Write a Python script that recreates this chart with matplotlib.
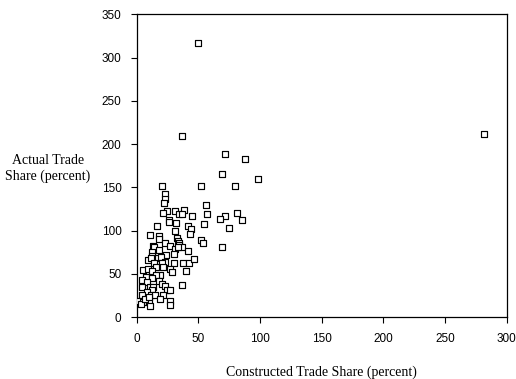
import matplotlib
matplotlib.use("Agg")
import matplotlib.pyplot as plt

# constructed trade share (x) and actual trade share (y), percent
constructed = [49.5, 36.5, 281.6, 71.9, 87.6, 68.9, 98.6, 20.8, 52.4, 80.0,
               23.2, 23.0, 22.2, 56.0, 31.0, 38.4, 24.9, 21.4, 34.3, 36.5,
               45.0, 57.0, 81.6, 71.4, 67.8, 85.0, 26.5, 26.0, 31.6, 54.6,
               41.9, 16.8, 43.8, 75.1, 30.8, 43.0, 10.5, 18.1, 18.4, 32.7,
               33.2, 51.9, 54.0, 34.0, 23.0, 34.3, 26.8, 36.5, 13.5, 14.0,
               31.0, 33.2, 69.5, 41.9, 17.9, 12.4, 30.3, 23.8, 12.2, 8.9,
               17.3, 20.0, 11.4, 22.7, 20.8, 13.8, 37.3, 42.2, 30.0, 46.8,
               21.4, 15.4, 27.0, 28.9, 40.3, 5.1, 9.5, 12.7, 7.8, 19.2,
               15.7, 12.4, 4.6, 8.1, 18.1, 20.8, 10.5, 4.0, 13.0, 23.2,
               37.0, 24.3, 26.8, 12.4, 8.1, 4.3, 11.6, 21.0, 14.9, 18.9,
               1.9, 5.1, 10.3, 3.2, 10.5, 27.3, 27.3, 6.5, 9.7]
actual = [317.0, 209.6, 211.5, 188.8, 183.0, 165.0, 160.0, 152.0, 151.5, 151.5,
          142.0, 136.5, 131.5, 130.0, 123.0, 124.0, 122.7, 120.0, 118.8, 118.8,
          117.3, 118.8, 120.8, 116.5, 113.5, 112.0, 112.3, 109.6, 109.2, 107.7,
          105.4, 105.0, 102.0, 102.7, 99.6, 96.0, 94.6, 94.2, 90.0, 92.0,
          88.5, 89.6, 85.8, 86.0, 85.8, 83.0, 82.3, 80.8, 82.7, 80.8,
          78.5, 80.8, 80.8, 77.0, 78.0, 75.4, 73.0, 71.5, 71.0, 66.0,
          68.8, 70.0, 68.0, 64.0, 62.7, 62.7, 62.7, 62.7, 62.3, 67.3,
          58.5, 58.5, 55.4, 52.3, 53.5, 54.2, 55.4, 53.5, 47.0, 48.5,
          48.5, 45.0, 43.0, 40.8, 41.5, 38.5, 35.4, 35.4, 35.4, 35.8,
          37.3, 31.2, 31.2, 31.2, 28.8, 25.8, 25.4, 25.4, 26.2, 21.5,
          19.2, 17.7, 17.7, 15.8, 13.0, 18.8, 14.2, 21.2, 23.5]

xticks = [0, 50, 100, 150, 200, 250, 300]
yticks = [0, 50, 100, 150, 200, 250, 300, 350]

fig = plt.figure(figsize=(5.16, 3.79), dpi=100)
ax = fig.add_axes([0.265, 0.163, 0.717, 0.799])

ax.scatter(constructed, actual, marker="s", s=13, facecolors="white",
           edgecolors="black", linewidths=0.85, zorder=3)

ax.set_xlim(0, 300)
ax.set_ylim(0, 350)
ax.set_xticks(xticks)
ax.set_yticks(yticks)
ax.tick_params(direction="out", length=4, width=0.8, labelsize=8.5, pad=7)
for lab in ax.get_xticklabels() + ax.get_yticklabels():
    lab.set_fontfamily("Liberation Sans")
for sp in ax.spines.values():
    sp.set_linewidth(0.9)

serif = {"family": "Liberation Serif", "size": 10, "weight": "normal"}
ax.set_xlabel("Constructed Trade Share (percent)", fontdict=serif, labelpad=15)
fig.text(0.093, 0.555, "Actual Trade\nShare (percent)", ha="center", va="center",
         linespacing=1.3, **serif)

fig.savefig("out.png", dpi=100)
